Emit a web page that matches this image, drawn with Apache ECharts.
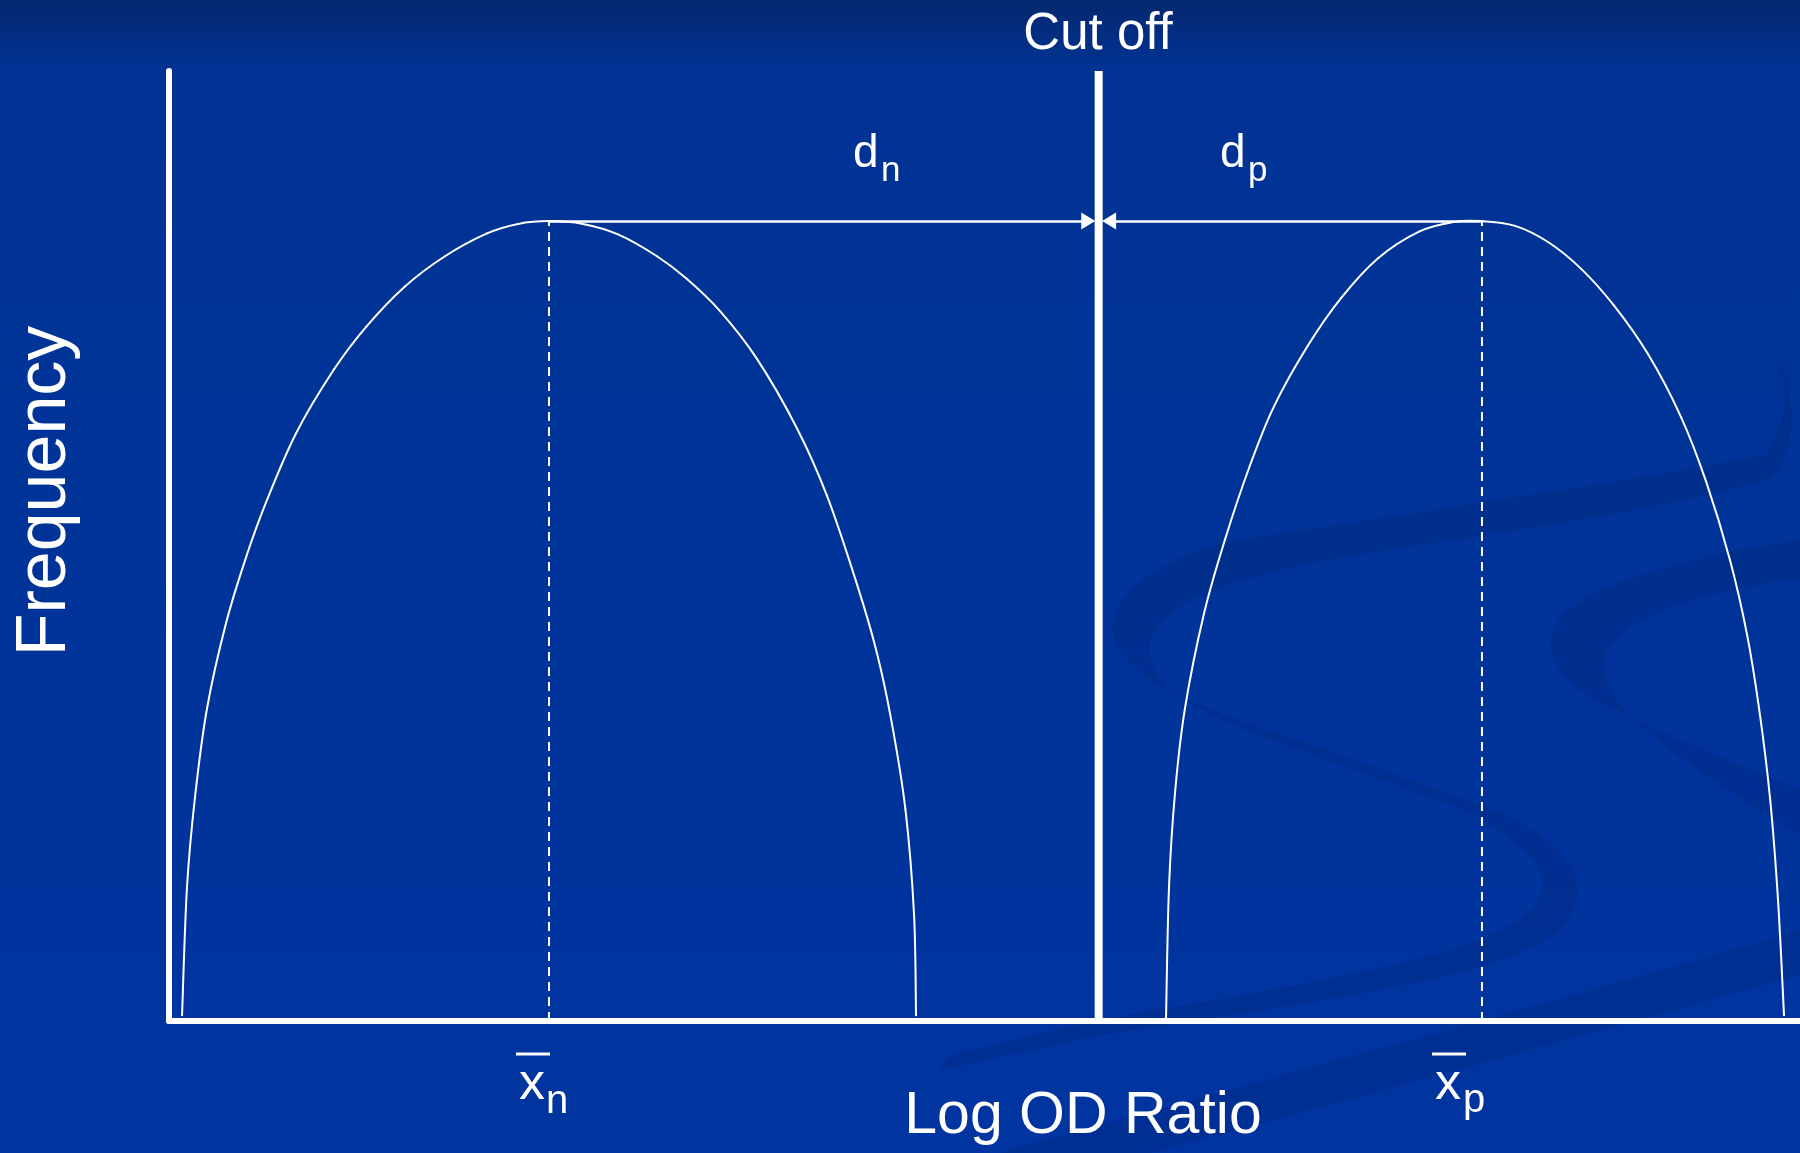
<!DOCTYPE html>
<html>
<head>
<meta charset="utf-8">
<script src="https://cdn.jsdelivr.net/npm/echarts@6/dist/echarts.min.js"></script>
<style>
  html, body { margin: 0; padding: 0; background: #003399; }
  #chart { width: 1800px; height: 1153px; }
</style>
</head>
<body>
<div id="chart"></div>
<script>
// Frequency distributions of negative and positive samples along the log OD ratio,
// with the cut-off between them and the distances d_n / d_p from each mean.

// [log OD ratio, frequency] for the negative population
const negativeCurve = [
  [0.80, 0.6], [1.10, 14.0], [1.59, 23.5], [2.33, 32.9], [3.50, 41.9], [4.78, 49.1],
  [5.95, 54.6], [7.80, 61.9], [10.12, 68.6], [12.10, 73.1], [14.45, 77.3], [16.92, 80.5],
  [19.50, 82.9], [21.40, 83.9], [23.30, 84.2], [25.38, 83.9], [27.53, 82.8], [29.92, 80.5],
  [31.76, 78.1], [33.80, 74.7], [36.05, 69.7], [38.50, 62.4], [40.34, 55.3], [42.12, 46.3],
  [43.35, 39.1], [44.27, 31.8], [45.15, 22.3], [45.68, 11.2], [45.80, 0.6]
];

// [log OD ratio, frequency] for the positive population
const positiveCurve = [
  [61.13, 0.3], [61.31, 14.0], [61.68, 24.0], [62.29, 32.9], [63.46, 42.9], [64.75, 50.7],
  [66.28, 58.5], [67.75, 64.7], [69.83, 71.1], [71.86, 76.1], [74.13, 80.3], [76.64, 83.1],
  [78.72, 84.1], [80.50, 84.2], [82.53, 83.7], [84.55, 82.0], [86.57, 79.2], [88.60, 75.3],
  [90.68, 70.2], [92.70, 63.6], [94.24, 56.8], [95.71, 48.5], [96.75, 40.7], [97.49, 32.9],
  [98.16, 23.5], [98.65, 12.8], [99.02, 0.6]
];

const negativeMean = 23.3;
const positiveMean = 80.5;
const peakFrequency = 84.2;
const cutOff = 57.0;
const axisMin = 0;
const axisMax = 100;

const labelCutOff = 'Cut off';
const labelD = 'd';
const labelX = 'x';
const subNegative = 'n';
const subPositive = 'p';
const labelXAxis = 'Log OD Ratio';
const labelYAxis = 'Frequency';

const WHITE = '#ffffff';
const FONT = '"Liberation Sans", Arial, Helvetica, sans-serif';
const tipGap = 0.64; // arrowhead centre offset from the cut-off line (axis units)

// background swirl outlines
const swirlPaths = {
  swirlUpper: 'M 1750 310 C 1790 350 1795 420 1765 455 C 1650 478 1400 515 1240 540 C 1160 555 1100 600 1115 640 C 1130 680 1190 705 1300 740 L 1480 805 C 1560 832 1600 880 1565 925 C 1520 975 1300 1005 1100 1035 L 940 1070 L 950 1055 L 1100 1020 C 1300 985 1500 955 1535 905 C 1560 868 1520 845 1470 812 L 1300 750 C 1200 715 1150 690 1150 650 C 1150 600 1250 570 1400 548 C 1550 526 1680 505 1772 478 C 1805 440 1795 360 1750 310 Z',
  swirlRight: 'M 1800 540 C 1700 555 1600 580 1562 615 C 1535 645 1555 685 1620 712 C 1680 740 1750 770 1800 790 L 1800 835 C 1740 800 1680 760 1640 725 C 1600 690 1595 660 1615 640 C 1640 610 1720 590 1800 578 Z',
  swirlBottom: 'M 1000 1153 C 1300 1070 1600 990 1800 930 L 1800 975 C 1600 1030 1350 1100 1150 1153 Z'
};
Object.keys(swirlPaths).forEach(function (name) {
  echarts.graphic.registerShape(name, echarts.graphic.extendPath(swirlPaths[name], {}));
});

const chart = echarts.init(document.getElementById('chart'), null, { renderer: 'canvas' });

function axis() {
  return {
    type: 'value', min: axisMin, max: axisMax,
    axisLine: { show: true, onZero: false, lineStyle: { color: WHITE, width: 6 } },
    axisTick: { show: false }, axisLabel: { show: false }, splitLine: { show: false }
  };
}

// Draws each segment of a curve as a Catmull-Rom cubic through its neighbours.
function smoothCurve(curve) {
  return function (params, api) {
    const i = params.dataIndex;
    if (i >= curve.length - 1) return null;
    const at = function (k) {
      return api.coord(curve[Math.max(0, Math.min(curve.length - 1, k))]);
    };
    const p0 = at(i - 1), p1 = at(i), p2 = at(i + 1), p3 = at(i + 2);
    return {
      type: 'bezierCurve',
      shape: {
        x1: p1[0], y1: p1[1], x2: p2[0], y2: p2[1],
        cpx1: p1[0] + (p2[0] - p0[0]) / 6, cpy1: p1[1] + (p2[1] - p0[1]) / 6,
        cpx2: p2[0] - (p3[0] - p1[0]) / 6, cpy2: p2[1] - (p3[1] - p1[1]) / 6
      },
      style: { stroke: WHITE, fill: null, lineWidth: 2, lineCap: 'round' }
    };
  };
}

function txt(text, x, y, size, align, extra) {
  return Object.assign({
    type: 'text', x: x, y: y, z: 100, silent: true,
    style: { text: text, fill: WHITE, fontSize: size, fontFamily: FONT, align: align, verticalAlign: 'middle' }
  }, extra || {});
}

function bar(x1, x2, y) {
  return {
    type: 'line', z: 100, silent: true,
    shape: { x1: x1, y1: y, x2: x2, y2: y },
    style: { stroke: WHITE, lineWidth: 3 }
  };
}

const swirlFill = 'rgba(0, 32, 105, 0.22)';

const option = {
  animation: false,
  grid: { left: 169, right: 0, top: 71, bottom: 132 },
  xAxis: axis(),
  yAxis: axis(),
  series: [
    {
      type: 'custom', data: negativeCurve, renderItem: smoothCurve(negativeCurve),
      encode: { x: 0, y: 1 }, silent: true, clip: false
    },
    {
      type: 'custom', data: positiveCurve, renderItem: smoothCurve(positiveCurve),
      encode: { x: 0, y: 1 }, silent: true, clip: false
    },
    {
      type: 'line', data: [[negativeMean, 0], [negativeMean, peakFrequency]], showSymbol: false, silent: true,
      lineStyle: { color: WHITE, width: 2, type: [9, 6] }
    },
    {
      type: 'line', data: [[positiveMean, 0], [positiveMean, peakFrequency]], showSymbol: false, silent: true,
      lineStyle: { color: WHITE, width: 2, type: [9, 6] }
    },
    {
      type: 'line', data: [[cutOff, axisMin], [cutOff, axisMax]], showSymbol: false, silent: true, clip: false,
      lineStyle: { color: WHITE, width: 8 },
      markLine: {
        silent: true, animation: false,
        symbol: ['none', 'triangle'],
        symbolSize: [0, 17],
        label: { show: false },
        emphasis: { disabled: true },
        itemStyle: { color: WHITE },
        lineStyle: { color: WHITE, width: 2.5, type: 'solid' },
        data: [
          [{ coord: [negativeMean, peakFrequency] }, { coord: [cutOff - tipGap, peakFrequency], symbolSize: [17, 14] }],
          [{ coord: [positiveMean, peakFrequency] }, { coord: [cutOff + tipGap, peakFrequency], symbolSize: [17, 14] }]
        ]
      }
    }
  ],
  graphic: [
    // slide background
    {
      type: 'rect', z: -100, silent: true,
      shape: { x: 0, y: 0, width: 1800, height: 1153 },
      style: {
        fill: new echarts.graphic.LinearGradient(0, 0, 0, 1, [
          { offset: 0, color: '#05286f' },
          { offset: 0.06, color: '#003393' },
          { offset: 1, color: '#0034a0' }
        ])
      }
    },
    // decorative swirls
    { type: 'swirlUpper', z: -90, silent: true, style: { fill: swirlFill } },
    { type: 'swirlRight', z: -90, silent: true, style: { fill: swirlFill } },
    { type: 'swirlBottom', z: -90, silent: true, style: { fill: swirlFill } },
    // texts
    txt(labelCutOff, 1098, 35, 51, 'center'),
    txt(labelD, 853, 154, 46, 'left'),
    txt(subNegative, 881, 171, 35, 'left'),
    txt(labelD, 1220, 154, 46, 'left'),
    txt(subPositive, 1248, 171, 35, 'left'),
    bar(516, 550, 1054),
    txt(labelX, 519, 1085, 52, 'left'),
    txt(subNegative, 546, 1102, 40, 'left'),
    bar(1432, 1466, 1054),
    txt(labelX, 1435, 1085, 52, 'left'),
    txt(subPositive, 1463, 1101, 40, 'left'),
    txt(labelXAxis, 1083, 1117, 59, 'center'),
    txt(labelYAxis, 46, 491, 70, 'center', { rotation: Math.PI / 2 })
  ]
};

chart.setOption(option);
</script>
</body>
</html>
